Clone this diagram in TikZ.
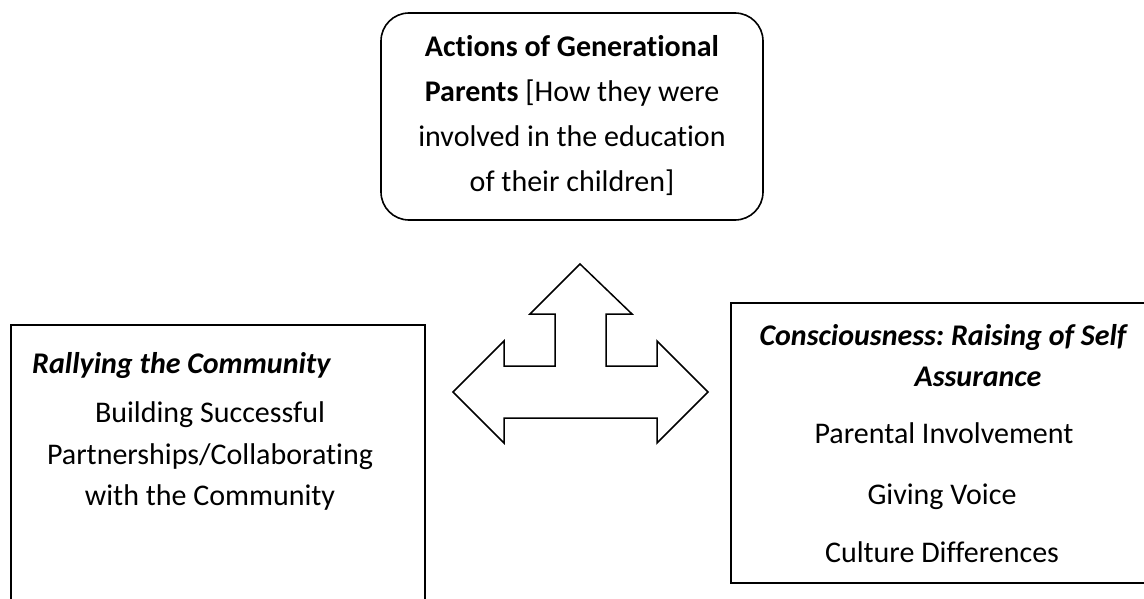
\documentclass[tikz,border=0pt]{standalone}
\usepackage{fontspec}
\setmainfont{Carlito}[Ligatures={NoCommon}]
\frenchspacing
\begin{document}
\begin{tikzpicture}[x=1pt,y=-1pt,
  box/.style={draw, line width=1.6pt, inner sep=0pt},
  txt/.style={anchor=base, inner sep=0pt, font=\fontsize{30}{36}\selectfont},
  ttl/.style={txt, font=\fontsize{30}{36}\selectfont\bfseries\itshape}]
\useasboundingbox (0,0) rectangle (1144,599);

% frames
\node[box, rounded corners=28pt, minimum width=382pt, minimum height=207pt] (actions) at (572,116.5) {};
\node[box, minimum width=414pt, minimum height=300pt] (rally) at (218,475) {};
\node[box, line width=2pt, minimum width=430pt, minimum height=280pt] (conscious) at (946,443) {};

% three-way arrow
\draw[line width=1.5pt, line join=miter]
  (580,264) -- (632,314) -- (606,314) -- (606,366) -- (657,366) -- (657,341)
  -- (708,392) -- (657,443) -- (657,418) -- (504,418) -- (504,443)
  -- (453,392) -- (504,341) -- (504,366) -- (555,366) -- (555,314)
  -- (530,314) -- cycle;

% upper box text
\node[txt] (a1) at (572,57) {\textbf{Actions of Generational}};
\node[txt] (a2) at (572,102) {\textbf{Parents} [How they were};
\node[txt] (a3) at (572,147) {involved in the education};
\node[txt] (a4) at (572,192) {of their children]};

% left box text
\node[ttl, anchor=base west] (r0) at (32,373) {Rallying the Community};
\node[txt] (r1) at (210,422) {Building Successful};
\node[txt] (r2) at (210,464) {Partnerships/Collaborating};
\node[txt] (r3) at (210,505) {with the Community};

% right box text
\node[ttl] (c0) at (943,345) {Consciousness: Raising of Self};
\node[ttl] (c1) at (978,386) {Assurance};
\node[txt] (c2) at (944,443) {Parental Involvement};
\node[txt] (c3) at (942,504) {Giving Voice};
\node[txt] (c4) at (942,562) {Culture Differences};
\end{tikzpicture}
\end{document}
